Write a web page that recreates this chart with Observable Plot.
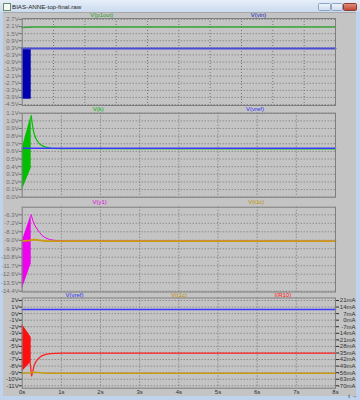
<!DOCTYPE html>
<html>
<head>
<meta charset="utf-8">
<script src="https://cdn.jsdelivr.net/npm/d3@7"></script>
<script src="https://cdn.jsdelivr.net/npm/@observablehq/plot@0.6"></script>
<style>
  html, body { margin: 0; padding: 0; background: #ffffff; }
  #win { position: relative; width: 360px; height: 400px; background: #bfd3ec; overflow: hidden;
         font-family: "Liberation Sans", Arial, sans-serif; }
  #titlebar { position: absolute; left: 0; top: 0; width: 360px; height: 12px;
              background: linear-gradient(#e6eef9, #cbdbef); }
  #titlebar .icon { position: absolute; left: 3px; top: 3px; width: 6px; height: 6px;
                    background: #f4f8f4; border: 1px solid #6a8a6a; }
  #titlebar .title { position: absolute; left: 12px; top: 2.5px; font-size: 6.2px; color: #1e1e1e; }
  .btn { position: absolute; top: 3px; height: 6px; border: 1px solid #8ea4c4; border-radius: 1.5px;
         background: linear-gradient(#eef3fa, #cfdcee); }
  .btn.close { background: linear-gradient(#e08a7a, #c24a36); border-color: #8c3a2c; }
  #client { position: absolute; left: 3px; top: 12px; width: 353px; height: 384px;
            background: #c4c4c4; border-top: 1px solid #a8a8a8; box-sizing: border-box; }
  .pane { position: absolute; left: 0; }
  .hdr { position: absolute; left: 21.7px; width: 313.3px; height: 8px; display: flex;
         justify-content: space-around; align-items: center; font-size: 6px; white-space: nowrap; }
</style>
</head>
<body>
<div id="win">
  <div id="titlebar">
    <span class="icon"></span>
    <span class="title">BIAS-ANNE-top-final.raw</span>
    <div class="btn" style="left:318px;width:11px"></div>
    <div class="btn" style="left:331px;width:10px"></div>
    <div class="btn close" style="left:343px;width:12px"></div>
  </div>
  <div id="client"></div>
</div>
<script>
// ---------- data ----------
const timeTicks = [0, 1, 2, 3, 4, 5, 6, 7, 8];
const p1GridT = [0.8, 1.6, 2.4, 3.2, 4.0, 4.8, 5.6, 6.4, 7.2];

// Pane 1: V(p1out), V(vin)
const p1Ticks = [2.7, 2.1, 1.5, 0.9, 0.3, -0.3, -0.9, -1.5, -2.1, -2.7, -3.3, -3.9, -4.5];
const p1outT = [0, 0.15, 0.3, 8];
const p1outV = [2.02, 2.04, 2.07, 2.07];
const vinBandT = [0, 0.23];
const vinBandLo = [-4.05, -4.05];
const vinBandHi = [0.24, 0.24];
const vinT = [0, 8];
const vinV = [0.24, 0.24];

// Pane 2: V(k), V(vref)
const p2Ticks = [1.1, 1.0, 0.9, 0.8, 0.7, 0.6, 0.5, 0.4, 0.3, 0.2, 0.1, 0.0];
const vrefT = [0, 8];
const vrefV = [0.64, 0.64];
const kBandT = [0, 0.23];
const kBandLo = [0.09, 0.38];
const kBandHi = [0.64, 1.07];
const kT = [0.23, 0.26, 0.29, 0.33, 0.38, 0.44, 0.51, 0.6, 0.75, 1.0, 8];
const kV = [1.07, 0.95, 0.86, 0.79, 0.74, 0.7, 0.675, 0.655, 0.64, 0.635, 0.632];

// Pane 3: V(y1), V(t1c)
const p3Ticks = [-6.3, -7.2, -8.1, -9.0, -9.9, -10.8, -11.7, -12.6, -13.5, -14.4];
const y1BandT = [0, 0.23];
const y1BandLo = [-14.2, -11.5];
const y1BandHi = [-9.1, -6.3];
const y1T = [0.23, 0.27, 0.32, 0.38, 0.45, 0.51, 0.6, 0.7, 0.85, 1.1, 8];
const y1V = [-6.3, -6.9, -7.4, -7.8, -8.2, -8.5, -8.75, -8.92, -9.03, -9.08, -9.1];
const t1cT = [0, 0.2, 0.3, 0.4, 0.6, 8];
const t1cV = [-9.1, -9.0, -8.93, -8.98, -9.08, -9.1];

// Pane 4: V(vref), V(t1c), I(R10)
const p4Ticks = [2, 1, 0, -1, -2, -3, -4, -5, -6, -7, -8, -9, -10, -11];
const p4mATicks = [21, 14, 7, 0, -7, -14, -21, -28, -35, -42, -49, -56, -63, -70];
const r10BandT = [0, 0.23];
const r10BandLo = [-55, -44.5];
const r10BandHi = [-4.4, -18.4];
const r10T = [0.2, 0.24, 0.27, 0.3, 0.34, 0.38, 0.45, 0.51, 0.6, 0.72, 1.0, 8];
const r10mA = [-44.5, -59.5, -55, -49, -45, -42.5, -39.5, -37.8, -36.5, -35.6, -35.2, -35.2];

// secondary (right) axis mapping: 2V <-> 21mA, 1V per 7mA
const mAtoV = mA => 2 + (mA - 21) / 7;
const vToMA = v => Math.round(21 + (v - 2) * 7);

// ---------- helpers ----------
const line = (t, v) => t.map((x, i) => ({t: x, v: v[i]}));
const band = (t, lo, hi) => t.map((x, i) => ({t: x, lo: lo[i], hi: hi[i]}));

const GRID = {stroke: "#6c6c6c", strokeDasharray: "1,2", strokeOpacity: 0.9, strokeWidth: 1};
const win = document.getElementById("win");

function pane({top, height, mt, mb, domain, ticks, fmt, xGrid, marks, labelColor, bottomAxis, right}) {
  const extra = [];
  if (bottomAxis) {
    extra.push(Plot.axisX(timeTicks, {tickFormat: d => d + "s", tickSize: 0, tickPadding: 1.5, fill: "#303030"}));
  }
  if (right) extra.push(right);
  const chart = Plot.plot({
    width: 360, height,
    marginLeft: 21.7, marginRight: 25, marginTop: mt, marginBottom: mb,
    x: {domain: [0, 8], axis: null},
    y: {domain, axis: null},
    style: {fontSize: "6px", fontFamily: "Liberation Sans, Arial, sans-serif", background: "transparent", color: labelColor, overflow: "visible"},
    marks: [
      Plot.gridY(ticks, GRID),
      Plot.gridX(xGrid, GRID),
      ...marks,
      Plot.frame({stroke: "#7e7e7e", strokeWidth: 1}),
      Plot.axisY(ticks, {tickFormat: fmt, tickSize: 3, tickPadding: 0.5}),
      ...extra
    ]
  });
  chart.classList.add("pane");
  chart.style.top = top + "px";
  win.appendChild(chart);
}

function header(top, items) {
  const d = document.createElement("div");
  d.className = "hdr";
  d.style.top = top + "px";
  for (const [txt, col] of items) {
    const s = document.createElement("span");
    s.textContent = txt; s.style.color = col;
    d.appendChild(s);
  }
  win.appendChild(d);
}

const f1 = d => d.toFixed(1) + "V";
const interior = timeTicks.slice(1, -1);

// Pane 1
header(11, [["V(p1out)", "#2e9a2e"], ["V(vin)", "#2020c0"]]);
pane({
  top: 16, height: 91, mt: 2, mb: 2, domain: [-4.58, 2.78], ticks: p1Ticks, fmt: f1, xGrid: p1GridT,
  labelColor: "#6e6e6e",
  marks: [
    Plot.line(line(p1outT, p1outV), {x: "t", y: "v", stroke: "#3aa53a", strokeWidth: 1.5}),
    Plot.areaY(band(vinBandT, vinBandLo, vinBandHi), {x: "t", y1: "lo", y2: "hi", fill: "#0000b0"}),
    Plot.line(line(vinT, vinV), {x: "t", y: "v", stroke: "#4a4ad2", strokeWidth: 2})
  ]
});

// Pane 2
header(105, [["V(k)", "#00b000"], ["V(vref)", "#3030f0"]]);
pane({
  top: 110, height: 89, mt: 2.7, mb: 2.3, domain: [0, 1.1], ticks: p2Ticks, fmt: f1, xGrid: interior,
  labelColor: "#6e6e6e",
  marks: [
    Plot.areaY(band(kBandT, kBandLo, kBandHi), {x: "t", y1: "lo", y2: "hi", fill: "#00c000"}),
    Plot.line(line(kT, kV), {x: "t", y: "v", stroke: "#00c000", strokeWidth: 1.2}),
    Plot.line(line(vrefT, vrefV), {x: "t", y: "v", stroke: "#3a3aff", strokeWidth: 1.5})
  ]
});

// Pane 3
header(198, [["V(y1)", "#e000e0"], ["V(t1c)", "#c09000"]]);
pane({
  top: 205, height: 88, mt: 1.7, mb: 1.5, domain: [-14.49, -5.49], ticks: p3Ticks, fmt: f1, xGrid: interior,
  labelColor: "#6e6e6e",
  marks: [
    Plot.areaY(band(y1BandT, y1BandLo, y1BandHi), {x: "t", y1: "lo", y2: "hi", fill: "#f000f0"}),
    Plot.line(line(y1T, y1V), {x: "t", y: "v", stroke: "#f000f0", strokeWidth: 1}),
    Plot.line(line(t1cT, t1cV), {x: "t", y: "v", stroke: "#cc9a10", strokeWidth: 1.8})
  ]
});

// Pane 4
header(291, [["V(vref)", "#3030f0"], ["V(t1c)", "#c09000"], ["I(R10)", "#ff2020"]]);
pane({
  top: 296, height: 104, mt: 1.5, mb: 12.3, domain: [-11.37, 2.38], ticks: p4Ticks, fmt: d => d + "V", xGrid: interior,
  labelColor: "#303030", bottomAxis: true,
  right: Plot.axisY(p4mATicks.map(mAtoV), {anchor: "right", tickFormat: v => vToMA(v) + "mA", tickSize: 3, tickPadding: 17, textAnchor: "end"}),
  marks: [
    Plot.line(line(vrefT, vrefV), {x: "t", y: "v", stroke: "#3a3aff", strokeWidth: 1.5}),
    Plot.areaY(band(r10BandT, r10BandLo.map(mAtoV), r10BandHi.map(mAtoV)), {x: "t", y1: "lo", y2: "hi", fill: "#ff1010"}),
    Plot.line(r10T.map((t, i) => ({t, v: mAtoV(r10mA[i])})), {x: "t", y: "v", stroke: "#ff2020", strokeWidth: 1.3}),
    Plot.line(line(t1cT, t1cV), {x: "t", y: "v", stroke: "#c89a10", strokeWidth: 1.5})
  ]
});
</script>
</body>
</html>
